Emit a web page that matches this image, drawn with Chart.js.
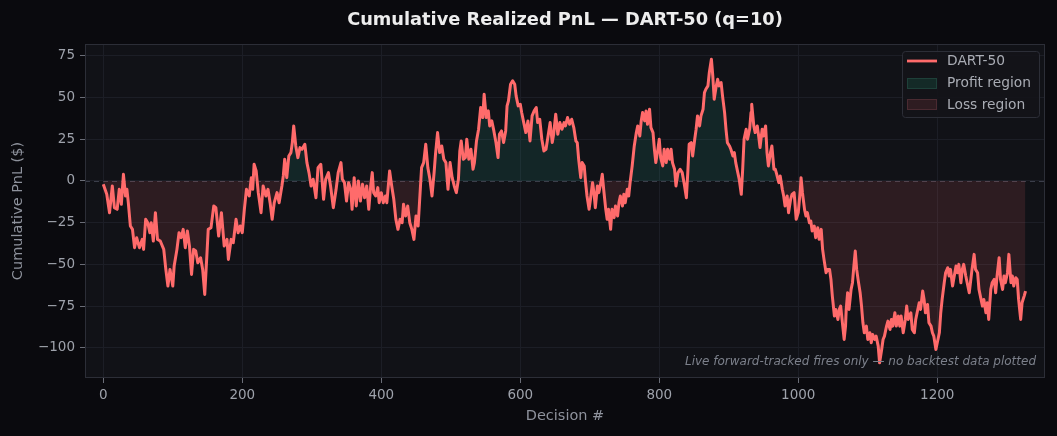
<!DOCTYPE html>
<html>
<head>
<meta charset="utf-8">
<script src="https://cdn.jsdelivr.net/npm/chart.js@4.4.0/dist/chart.umd.min.js"></script>
<style>
  html, body { margin: 0; padding: 0; background: #0a0a0e; }
  #wrap { width: 1057px; height: 436px; }
</style>
</head>
<body>
<div id="wrap"><canvas id="c" width="1057" height="436"></canvas></div>
<script>
// ---- Data ----
const decisions = [0,5,9,13,16,20,23,26,29,32,34,36,39,42,45,48,52,56,58,61,64,67,69,72,75,78,82,87,90,93,96,100,102,106,109,112,115,118,121,124,127,130,133,136,140,143,146,149,151,155,159,162,166,
170,174,178,180,184,187,191,194,197,200,203,206,210,213,215,217,220,223,227,230,234,237,240,243,246,250,253,257,259,261,264,267,270,272,274,277,280,283,286,290,293,296,299,302,306,309,313,317,320,324,327,331,
335,338,342,344,347,350,353,356,358,361,364,367,370,373,376,379,382,385,387,389,392,395,397,400,403,406,408,412,415,418,421,424,427,430,432,435,438,441,444,447,450,453,455,458,461,464,467,470,473,476,478,481,484,487,490,493,496,
499,502,505,508,511,513,515,518,521,523,526,529,532,534,537,540,543,546,548,551,554,556,559,562,565,568,570,573,576,579,581,583,586,589,592,594,597,600,602,605,608,611,614,617,620,623,625,628,631,634,637,640,643,646,648,651,654,657,660,663,
665,668,671,674,677,680,682,684,687,689,692,694,696,699,701,704,706,708,711,713,716,718,720,723,725,727,730,732,735,737,740,742,744,747,749,751,754,756,758,761,764,767,769,772,774,776,779,781,783,786,788,791,793,795,798,800,802,805,807,810,812,815,817,819,822,824,827,
830,833,836,839,841,843,846,848,851,853,855,858,860,863,865,867,870,872,875,877,879,882,884,886,889,891,894,896,898,901,903,906,908,910,913,915,918,920,922,925,927,930,932,933,936,938,941,943,945,948,950,953,955,957,960,962,965,967,969,972,974,977,979,981,984,986,989,
991,994,997,1000,1003,1004,1006,1009,1011,1013,1016,1018,1020,1023,1025,1028,1030,1033,1035,1037,1040,1042,1045,1047,1049,1052,1054,1057,1059,1061,1064,1066,1068,1069,1071,1073,1076,1078,1080,1082,1084,1086,1089,1091,1093,1095,1098,1100,1103,1105,1107,1110,1112,1115,1117,1120,1122,1124,1127,1129,1132,1134,1136,1139,1141,1144,1146,1148,1151,1154,1156,1158,
1162,1164,1167,1169,1171,1174,1176,1179,1181,1183,1186,1188,1191,1193,1195,1198,1200,1203,1205,1207,1210,1212,1215,1217,1219,1222,1224,1227,1229,1231,1234,1236,1238,1241,1243,1246,1248,1250,1253,1255,1258,1260,1262,1265,1267,1270,1272,1274,1277,1279,1282,1284,1286,1289,1291,1294,1296,1298,1301,1303,1306,1308,1310,1313,1315,1317,1320,1322,1325,1327];

const pnl = [-2,-8,-19,-3,-16,-17,-5,-14,4,-9,-5,-13,-27,-29,-40,-34,-40,-35,-41,-23,-25,-31,-25,-36,-19,-35,-36,-41,-53,-63,-53,-63,-51,-41,-31,-34,-29,-40,-30,-39,-56,-41,-42,-49,-46,-53,-68,-45,-29,-28,-15,-16,-33,
-19,-39,-35,-47,-35,-37,-23,-31,-27,-31,-17,-5,-9,2,-5,10,6,-7,-19,-3,-9,-5,-13,-23,-13,-7,-13,-3,3,13,2,15,17,23,33,21,14,20,19,22,11,5,-3,1,-10,8,10,-11,1,5,-3,-16,
-5,5,11,1,-1,-12,-1,-5,-17,2,-15,0,-12,-2,-10,-3,-17,-2,5,-7,-9,-4,-13,-7,-13,-9,-13,6,-3,-11,-23,-29,-23,-25,-14,-21,-15,-25,-29,-35,-21,-27,-13,8,11,22,8,1,-9,5,16,29,17,21,13,11,-5,
11,2,-3,-7,1,18,24,13,14,25,13,19,7,11,24,31,44,38,52,38,42,33,36,30,23,14,28,30,23,30,45,48,58,60,58,51,45,46,41,35,29,36,24,39,42,44,35,37,25,18,19,27,35,23,28,40,28,35,31,35,
33,38,34,37,32,24,23,13,2,11,9,-1,-9,-17,-11,-1,-7,-16,-3,-7,-1,4,-5,-17,-23,-17,-29,-17,-22,-15,-21,-13,-9,-15,-8,-13,-5,-9,-1,9,21,29,33,27,36,41,36,42,34,43,32,29,19,11,19,25,14,9,19,11,19,13,19,11,7,-3,5,
7,5,-2,-10,5,22,23,15,25,31,39,33,39,43,53,55,57,65,73,63,49,57,61,57,59,51,41,31,23,21,19,15,17,11,5,1,-8,7,25,31,25,31,41,46,33,29,33,27,20,31,27,33,17,9,17,21,7,7,4,-1,3,-5,-9,-15,-9,-19,-11,
-8,-7,-23,-19,-5,2,-7,-17,-21,-19,-25,-24,-30,-27,-34,-28,-35,-29,-41,-47,-55,-53,-53,-59,-69,-81,-77,-83,-77,-75,-87,-95,-87,-77,-67,-77,-65,-61,-51,-42,-53,-59,-67,-75,-85,-91,-87,-95,-91,-97,-92,-95,-93,-99,-109,-101,-95,-93,-87,-84,-89,-83,-87,-79,-87,-81,-87,-81,-91,-83,-75,-83,
-79,-89,-91,-83,-79,-73,-77,-66,-71,-79,-74,-85,-87,-91,-93,-101,-97,-91,-79,-71,-61,-55,-52,-57,-53,-63,-58,-51,-55,-50,-61,-53,-50,-57,-61,-67,-60,-53,-44,-53,-55,-65,-69,-75,-71,-79,-73,-83,-65,-61,-59,-67,-57,-46,-59,-65,-57,-61,-55,-44,-61,-57,-63,-58,-59,-71,-83,-73,-69,-66];

const xTicks = [0, 200, 400, 600, 800, 1000, 1200];
const yTicks = [-100, -75, -50, -25, 0, 25, 50, 75];

const titleText = 'Cumulative Realized PnL \u2014 DART-50 (q=10)';
const seriesName = 'DART-50';
const profitLabel = 'Profit region';
const lossLabel = 'Loss region';
const xTitle = 'Decision #';
const yTitle = 'Cumulative PnL ($)';
const noteText = 'Live forward-tracked fires only \u2014 no backtest data plotted';

// ---- Styles ----
const FONT = "'DejaVu Sans', sans-serif";
const LINE = '#ff6b6b';
const PROFIT_FILL = 'rgba(38,166,140,0.14)';
const LOSS_FILL = 'rgba(255,107,107,0.12)';

const points = decisions.map((d, i) => ({ x: d, y: pnl[i] }));

const fmt = v => (v < 0 ? '\u2212' + Math.abs(v) : String(v));

const decor = {
  id: 'decor',
  beforeDraw(chart) {
    const { ctx, chartArea: a } = chart;
    ctx.save();
    ctx.fillStyle = '#0a0a0e';
    ctx.fillRect(0, 0, chart.width, chart.height);
    ctx.fillStyle = '#111217';
    ctx.fillRect(a.left, a.top, a.right - a.left, a.bottom - a.top);
    ctx.restore();
  },
  beforeDatasetsDraw(chart) {
    const { ctx, chartArea: a, scales } = chart;
    const y0 = Math.round(scales.y.getPixelForValue(0)) + 0.5;
    ctx.save();
    ctx.strokeStyle = '#3b3e4a';
    ctx.lineWidth = 1;
    ctx.setLineDash([5, 4]);
    ctx.beginPath();
    ctx.moveTo(a.left, y0);
    ctx.lineTo(a.right, y0);
    ctx.stroke();
    ctx.restore();
  },
  afterDraw(chart) {
    const { ctx, chartArea: a } = chart;
    ctx.save();
    // spines
    ctx.strokeStyle = '#2c2e37';
    ctx.lineWidth = 1;
    ctx.strokeRect(a.left + 0.5, a.top + 0.5, a.right - a.left - 1, a.bottom - a.top - 1);

    // title
    ctx.fillStyle = '#ededed';
    ctx.font = "bold 17.8px " + FONT;
    ctx.textAlign = 'center';
    ctx.textBaseline = 'middle';
    ctx.fillText(titleText, (a.left + a.right) / 2, 20);

    // note
    ctx.fillStyle = '#7c808b';
    ctx.font = "italic 12px " + FONT;
    ctx.textAlign = 'right';
    ctx.textBaseline = 'middle';
    ctx.fillText(noteText, a.right - 9, 362);

    // legend
    const lx = a.right - 143, ly = a.top + 7, lw = 137, lh = 66;
    ctx.fillStyle = 'rgba(19,20,25,0.92)';
    ctx.strokeStyle = '#2c2e37';
    ctx.beginPath();
    if (ctx.roundRect) ctx.roundRect(lx + 0.5, ly + 0.5, lw, lh, 3); else ctx.rect(lx + 0.5, ly + 0.5, lw, lh);
    ctx.fill();
    ctx.stroke();

    const sx = lx + 5, sw = 30;
    ctx.strokeStyle = LINE;
    ctx.lineWidth = 2.8;
    ctx.beginPath();
    ctx.moveTo(sx, ly + 10);
    ctx.lineTo(sx + sw, ly + 10);
    ctx.stroke();

    ctx.lineWidth = 1;
    ctx.fillStyle = '#142a27';
    ctx.strokeStyle = '#1e4039';
    ctx.fillRect(sx, ly + 27, sw, 11);
    ctx.strokeRect(sx + 0.5, ly + 27.5, sw - 1, 10);

    ctx.fillStyle = '#2e1c21';
    ctx.strokeStyle = '#4a2a31';
    ctx.fillRect(sx, ly + 48, sw, 11);
    ctx.strokeRect(sx + 0.5, ly + 48.5, sw - 1, 10);

    ctx.fillStyle = '#a9acb4';
    ctx.font = "13.8px " + FONT;
    ctx.textAlign = 'left';
    ctx.textBaseline = 'middle';
    ctx.fillText(seriesName, lx + 45, ly + 10);
    ctx.fillText(profitLabel, lx + 45, ly + 32);
    ctx.fillText(lossLabel, lx + 45, ly + 54);
    ctx.restore();
  }
};

new Chart(document.getElementById('c'), {
  type: 'line',
  data: {
    datasets: [{
      label: seriesName,
      data: points,
      borderColor: LINE,
      borderWidth: 3,
      borderJoinStyle: 'round',
      pointRadius: 0,
      tension: 0,
      fill: { target: { value: 0 }, above: PROFIT_FILL, below: LOSS_FILL }
    }]
  },
  options: {
    responsive: false,
    animation: false,
    events: [],
    layout: { padding: { top: 44, right: 12, left: 0, bottom: 0 } },
    plugins: { legend: { display: false }, title: { display: false }, tooltip: { enabled: false } },
    scales: {
      x: {
        type: 'linear',
        min: -26.3,
        max: 1355,
        afterFit: s => { s.height = 58; },
        afterBuildTicks: s => { s.ticks = xTicks.map(v => ({ value: v })); },
        grid: { color: '#1c1e26', lineWidth: 1, tickLength: 5, tickColor: '#6a6d77' },
        border: { display: false },
        ticks: { color: '#9ea2ab', font: { family: FONT, size: 13.5 }, padding: 4, maxRotation: 0, autoSkip: false, callback: v => fmt(v) },
        title: { display: true, text: xTitle, color: '#8e929c', font: { family: FONT, size: 14.5 }, padding: { top: 2, bottom: 11 } }
      },
      y: {
        type: 'linear',
        min: -118.1,
        max: 82.1,
        afterFit: s => { s.width = 85; },
        afterBuildTicks: s => { s.ticks = yTicks.map(v => ({ value: v })); },
        grid: { color: '#1c1e26', lineWidth: 1, tickLength: 5, tickColor: '#6a6d77' },
        border: { display: false },
        ticks: { color: '#9ea2ab', font: { family: FONT, size: 13.5 }, padding: 5, autoSkip: false, callback: v => fmt(v) },
        title: { display: true, text: yTitle, color: '#8e929c', font: { family: FONT, size: 14.5 }, padding: { top: 10, bottom: 2 } }
      }
    }
  },
  plugins: [decor]
});
</script>
</body>
</html>
